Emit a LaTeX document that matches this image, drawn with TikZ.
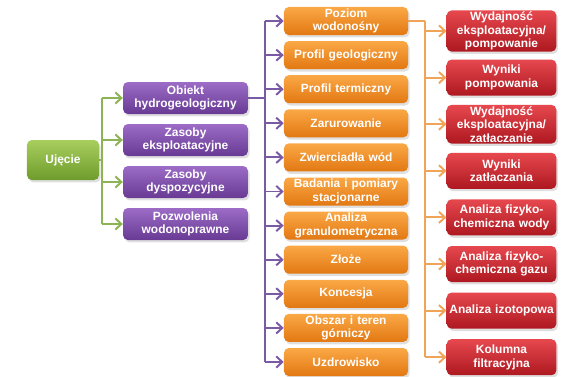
\documentclass[tikz,border=0pt]{standalone}
\usepackage{fontspec}
\setsansfont{Liberation Sans}
\usetikzlibrary{arrows.meta, shadows}
\newcommand{\fontSize}{8.5}
\newcommand{\lineSkip}{9.6}
\newcommand{\lineWidth}{1.4pt}
\newcommand{\arrow}{{Straight Barb[length=1.5mm, width=2.8mm]}}
\newcommand{\boxRound}{1.2mm}
\definecolor{rootTop}{RGB}{168,206,94}
\definecolor{rootBottom}{RGB}{110,156,44}
\definecolor{objTop}{RGB}{156,108,198}
\definecolor{objBottom}{RGB}{104,58,148}
\definecolor{dataTop}{RGB}{250,168,70}
\definecolor{dataBottom}{RGB}{226,120,18}
\definecolor{resTop}{RGB}{230,72,78}
\definecolor{resBottom}{RGB}{174,24,32}
\definecolor{greenLink}{RGB}{140,180,84}
\definecolor{purpleLink}{RGB}{122,90,165}
\definecolor{orangeLink}{RGB}{240,164,88}
\tikzstyle{box}=[rounded corners=\boxRound, inner sep=1pt, align=center, text=white, font=\sffamily\bfseries\fontsize{\fontSize}{\lineSkip}\selectfont, drop shadow={opacity=0.25, shadow xshift=0.4mm, shadow yshift=-0.6mm}]
\tikzstyle{rootBox}=[box, top color=rootTop, bottom color=rootBottom, minimum width=18mm, minimum height=10mm]
\tikzstyle{objBox}=[box, top color=objTop, bottom color=objBottom, text width=30.5mm, minimum height=8mm]
\tikzstyle{dataBox}=[box, top color=dataTop, bottom color=dataBottom, text width=30.3mm, minimum height=7mm]
\tikzstyle{resBox}=[box, top color=resTop, bottom color=resBottom, text width=26.7mm, minimum height=9mm]
\tikzstyle{greenLine}=[draw=greenLink, line width=\lineWidth]
\tikzstyle{greenArrow}=[greenLine, -\arrow]
\tikzstyle{purpleLine}=[draw=purpleLink, line width=\lineWidth]
\tikzstyle{purpleArrow}=[purpleLine, -\arrow]
\tikzstyle{orangeLine}=[draw=orangeLink, line width=\lineWidth]
\tikzstyle{orangeArrow}=[orangeLine, -\arrow]

\begin{document}
\begin{tikzpicture}[x=0.025cm, y=-0.025cm]

% Frame
\useasboundingbox (0,0) rectangle (563,376);

% Trunk coordinates
\coordinate (greenTrunk) at (102,0);
\coordinate (purpleTrunk) at (265,0);
\coordinate (orangeTrunk) at (425,0);

% Root
\node[rootBox] (ujecie) at (63,160) {Ujęcie};

% Objects
\node[objBox] (obj0) at (185.5,98) {Obiekt\\hydrogeologiczny};
\node[objBox] (obj1) at (185.5,140) {Zasoby\\eksploatacyjne};
\node[objBox] (obj2) at (185.5,182) {Zasoby\\dyspozycyjne};
\node[objBox] (obj3) at (185.5,224) {Pozwolenia\\wodonoprawne};

% Data boxes
\foreach \txt [count=\i from 0] in {{Poziom\\wodonośny}, Profil geologiczny,
  Profil termiczny, Zarurowanie, Zwierciadła wód, {Badania i pomiary\\stacjonarne},
  {Analiza\\granulometryczna}, Złoże, Koncesja, {Obszar i teren\\górniczy}, Uzdrowisko} {
  \node[dataBox] (data\i) at (346,{21+34.1*\i}) {\txt};
  }

% Result boxes
\foreach \txt [count=\i from 0] in {{Wydajność\\eksploatacyjna/\\pompowanie}, {Wyniki\\pompowania},
  {Wydajność\\eksploatacyjna/\\zatłaczanie}, {Wyniki\\zatłaczania}, {Analiza fizyko-\\chemiczna wody},
  {Analiza fizyko-\\chemiczna gazu}, Analiza izotopowa, {Kolumna\\filtracyjna}} {
  \node[resBox] (res\i) at (501.5,{31+46.6*\i}) {\txt};
  }

% Green links
\draw[greenLine] (ujecie.east) -- (greenTrunk |- ujecie.east);
\draw[greenLine] (greenTrunk |- obj0.west) -- (greenTrunk |- obj3.west);
\foreach \i in {0,...,3} {
  \draw[greenArrow] (greenTrunk |- obj\i.west) -- (obj\i.west);
  }

% Purple links
\draw[purpleLine] (obj0.east) -- (purpleTrunk |- obj0.east);
\draw[purpleLine] (purpleTrunk |- data0.west) -- (purpleTrunk |- data10.west);
\foreach \i in {0,...,10} {
  \draw[purpleArrow] (purpleTrunk |- data\i.west) -- (data\i.west);
  }

% Orange links
\draw[orangeLine] (data0.east) -- (orangeTrunk |- data0.east);
\draw[orangeLine] (orangeTrunk |- data0.east) -- (orangeTrunk |- res7.west);
\foreach \i in {0,...,7} {
  \draw[orangeArrow] (orangeTrunk |- res\i.west) -- (res\i.west);
  }

\end{tikzpicture}
\end{document}
